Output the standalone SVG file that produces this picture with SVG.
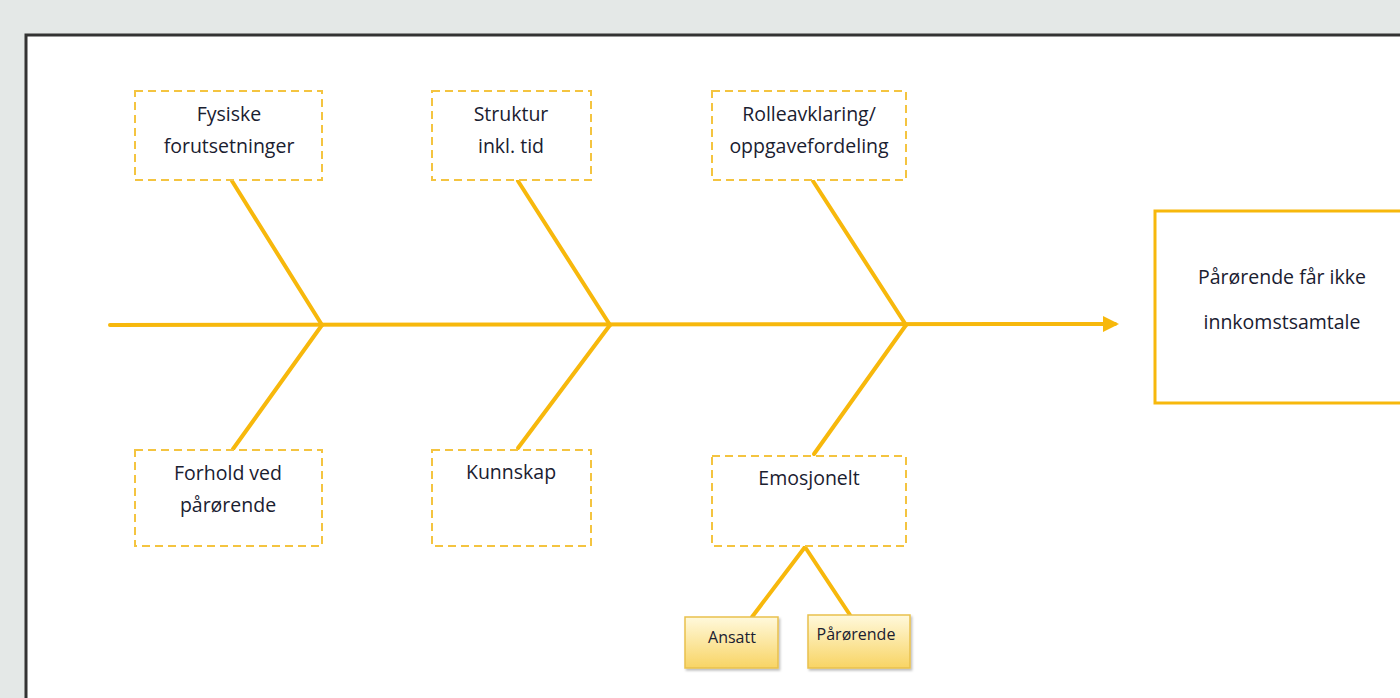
<svg xmlns="http://www.w3.org/2000/svg" width="1400" height="698" viewBox="0 0 1400 698">
<style>
.bg{fill:#e4e8e7}
.frame{fill:#fff;stroke:#333;stroke-width:3}
.dbox{fill:#fff;stroke:#f4c440;stroke-width:2;stroke-dasharray:8 5}
.bone{stroke:#f7b80c;stroke-width:4;fill:none;stroke-linecap:round}
.t{font-family:"Open Sans","Liberation Sans",sans-serif;font-size:19.5px;fill:#1a2030;text-anchor:middle}
.ts{font-family:"Open Sans","Liberation Sans",sans-serif;font-size:16px;fill:#1a2030;text-anchor:middle}
.sub{fill:url(#g);stroke:#e9c14c;stroke-width:1.5}
.res{fill:#fff;stroke:#f7b80c;stroke-width:3}
</style>
<defs>
<linearGradient id="g" x1="0" y1="0" x2="0" y2="1">
<stop offset="0" stop-color="#fff9dc"/>
<stop offset="1" stop-color="#f8d464"/>
</linearGradient>
<marker id="ah" markerWidth="4" markerHeight="4" refX="3" refY="2" orient="auto" markerUnits="strokeWidth">
<path d="M0,0 L4,2 L0,4 Z" fill="#f7b80c"/>
</marker>
<filter id="sh" x="-10%" y="-10%" width="130%" height="130%">
<feDropShadow dx="1.5" dy="2" stdDeviation="1" flood-color="#000" flood-opacity="0.25"/>
</filter>
</defs>
<rect class="bg" x="0" y="0" width="1400" height="698"/>
<rect class="frame" x="26" y="35" width="1400" height="700"/>

<g id="connectors">
<line class="bone" x1="110" y1="325" x2="1115" y2="324" marker-end="url(#ah)"/>
<line class="bone" x1="232" y1="181" x2="322" y2="325"/>
<line class="bone" x1="322" y1="325" x2="233" y2="449"/>
<line class="bone" x1="518" y1="181" x2="610" y2="325"/>
<line class="bone" x1="610" y1="325" x2="518" y2="448"/>
<line class="bone" x1="813" y1="181" x2="906" y2="325"/>
<line class="bone" x1="906" y1="325" x2="814" y2="454"/>
<line class="bone" x1="805" y1="547" x2="752" y2="617"/>
<line class="bone" x1="805" y1="547" x2="850" y2="615"/>
</g>

<g id="fysiske">
<rect class="dbox" x="135" y="91" width="187" height="89"/>
<text class="t" x="229" y="121">Fysiske</text>
<text class="t" x="229" y="153">forutsetninger</text>
</g>
<g id="struktur">
<rect class="dbox" x="432" y="91" width="159" height="89"/>
<text class="t" x="511" y="121">Struktur</text>
<text class="t" x="511" y="153">inkl. tid</text>
</g>
<g id="rolle">
<rect class="dbox" x="712" y="91" width="194" height="89"/>
<text class="t" x="809" y="121">Rolleavklaring/</text>
<text class="t" x="809" y="153">oppgavefordeling</text>
</g>
<g id="forhold">
<rect class="dbox" x="135" y="450" width="187" height="96"/>
<text class="t" x="228" y="480">Forhold ved</text>
<text class="t" x="228" y="512">pårørende</text>
</g>
<g id="kunnskap">
<rect class="dbox" x="432" y="450" width="159" height="96"/>
<text class="t" x="511" y="479">Kunnskap</text>
</g>
<g id="emosjonelt">
<rect class="dbox" x="712" y="456" width="194" height="90"/>
<text class="t" x="809" y="485">Emosjonelt</text>
</g>
<g id="ansatt">
<rect class="sub" x="685" y="617" width="93" height="51" filter="url(#sh)"/>
<text class="ts" x="732" y="643">Ansatt</text>
</g>
<g id="parorende">
<rect class="sub" x="808" y="615" width="102" height="53" filter="url(#sh)"/>
<text class="ts" x="856" y="640">Pårørende</text>
</g>
<g id="result">
<rect class="res" x="1155" y="211" width="260" height="192"/>
<text class="t" x="1282" y="284">Pårørende får ikke</text>
<text class="t" x="1282" y="329">innkomstsamtale</text>
</g>
</svg>
